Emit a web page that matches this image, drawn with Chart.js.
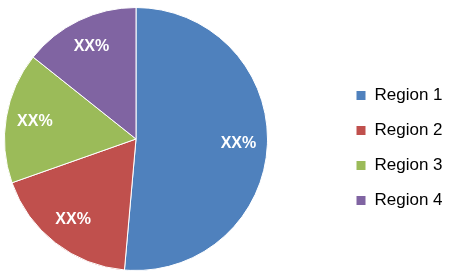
<!DOCTYPE html>
<html>
<head>
<meta charset="utf-8">
<script src="https://cdn.jsdelivr.net/npm/chart.js@4.4.0/dist/chart.umd.min.js"></script>
<style>
  html, body { margin: 0; padding: 0; background: #fff; }
  #wrap { width: 453px; height: 279px; }
</style>
</head>
<body>
<div id="wrap"><canvas id="canvas" width="453" height="279"></canvas></div>
<script>
// values (share of the pie, in %)
var regions = ['Region 1', 'Region 2', 'Region 3', 'Region 4'];
var shares = [51.4, 18.2, 16.1, 14.3];
var sliceTexts = ['XX%', 'XX%', 'XX%', 'XX%'];
var colors = ['#4F81BD', '#C0504D', '#9BBB59', '#8064A2'];

// pie on the left, legend on the right, like the excel chart
var placeBoxes = {
  id: 'placeBoxes',
  afterLayout: function(chart) {
    var a = chart.chartArea;
    a.left = 4; a.top = 7; a.right = 268; a.bottom = 271;
    a.width = a.right - a.left;
    a.height = a.bottom - a.top;
    var lg = chart.legend;
    var w = lg.width;
    lg.left = 338;
    lg.right = lg.left + w;
  }
};

// white "XX%" text on each slice
var sliceLabels = {
  id: 'sliceLabels',
  afterDatasetsDraw: function(chart) {
    var ctx = chart.ctx;
    var arcs = chart.getDatasetMeta(0).data;
    ctx.save();
    ctx.fillStyle = '#fff';
    ctx.font = 'bold 16px "Liberation Sans", Arial, sans-serif';
    ctx.textAlign = 'center';
    ctx.textBaseline = 'middle';
    for (var i = 0; i < arcs.length; i++) {
      var p = arcs[i].getProps(['x', 'y', 'startAngle', 'endAngle', 'outerRadius'], true);
      var mid = (p.startAngle + p.endAngle) / 2;
      var r = p.outerRadius * 0.78;
      ctx.fillText(sliceTexts[i], p.x + Math.cos(mid) * r, p.y + Math.sin(mid) * r);
    }
    ctx.restore();
  }
};

var ctx = document.getElementById('canvas').getContext('2d');
var chart = new Chart(ctx, {
  type: 'pie',
  data: {
    labels: regions,
    datasets: [{
      data: shares,
      backgroundColor: colors,
      borderColor: '#fff',
      borderWidth: 1,
      hoverOffset: 0
    }]
  },
  options: {
    responsive: false,
    animation: false,
    layout: { padding: { top: 69, left: 4, bottom: 8, right: 0 } },
    plugins: {
      legend: {
        position: 'right',
        align: 'start',
        labels: {
          boxWidth: 10,
          boxHeight: 10,
          padding: 18,
          color: '#000',
          font: { family: '"Liberation Sans", Arial, sans-serif', size: 17 }
        }
      },
      tooltip: { enabled: false }
    }
  },
  plugins: [placeBoxes, sliceLabels]
});
</script>
</body>
</html>
